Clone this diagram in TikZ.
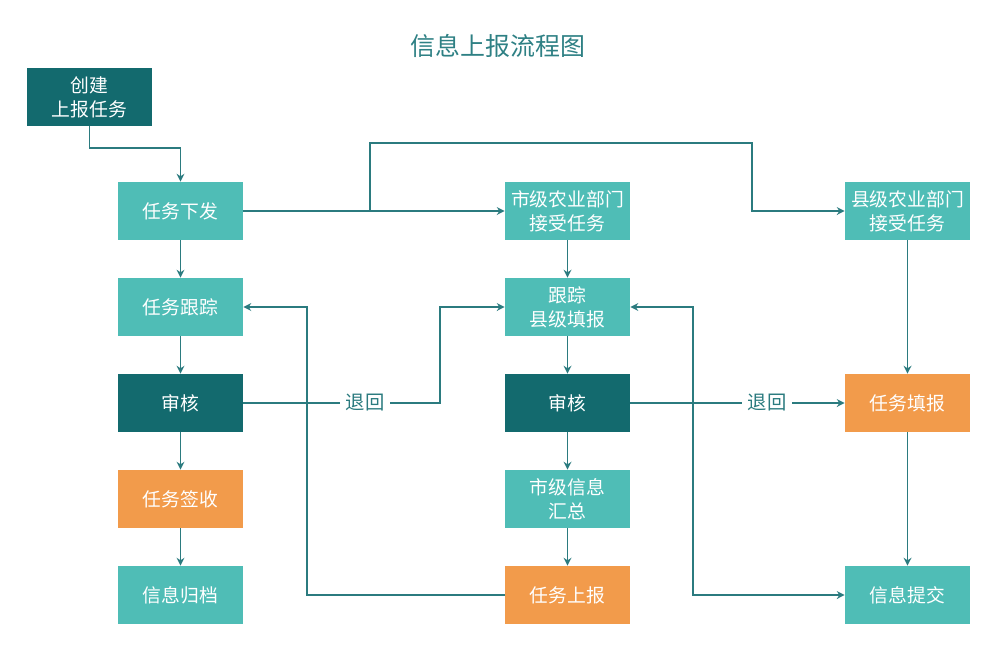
\documentclass[tikz,border=0pt]{standalone}
\usepackage{fontspec}
\setmainfont{Noto Sans CJK SC}
\usetikzlibrary{arrows.meta}
\definecolor{lightteal}{HTML}{4FBDB6}
\definecolor{darkteal}{HTML}{136A6E}
\definecolor{orangebox}{HTML}{F29B4B}
\definecolor{linec}{HTML}{2B7B7F}
\definecolor{titlec}{HTML}{2E8084}
\begin{document}
\begin{tikzpicture}[x=0.02cm,y=-0.02cm,
  box/.style={minimum width=2.5cm,minimum height=1.16cm,inner sep=0pt,align=center,text=white,font=\fontsize{10.7pt}{13.8pt}\selectfont},
  lbox/.style={box,fill=lightteal},
  dbox/.style={box,fill=darkteal},
  obox/.style={box,fill=orangebox},
  conn/.style={draw=linec,line width=0.8pt,-{Stealth[length=4.5pt,width=4.5pt]}},
  lbl/.style={fill=white,text=linec,inner sep=3pt,font=\fontsize{11pt}{13pt}\selectfont}]
\useasboundingbox (0,0) rectangle (1000,653);
\node[text=titlec,font=\fontsize{14.2pt}{17pt}\selectfont] (title) at (498,46) {信息上报流程图};
\node[dbox] (create) at (89.5,97) {创建\\上报任务};
\node[lbox] (xf) at (180.5,211) {任务下发};
\node[lbox] (gz) at (180.5,307) {任务跟踪};
\node[dbox] (sh1) at (180.5,403) {审核};
\node[obox] (qs) at (180.5,499) {任务签收};
\node[lbox] (gd) at (180.5,595) {信息归档};
\node[lbox] (sj) at (567.5,211) {市级农业部门\\接受任务};
\node[lbox] (gzx) at (567.5,307) {跟踪\\县级填报};
\node[dbox] (sh2) at (567.5,403) {审核};
\node[lbox] (hz) at (567.5,499) {市级信息\\汇总};
\node[obox] (sb) at (567.5,595) {任务上报};
\node[lbox] (xj) at (907.5,211) {县级农业部门\\接受任务};
\node[obox] (tb) at (907.5,403) {任务填报};
\node[lbox] (tj) at (907.5,595) {信息提交};
\coordinate (split) at (370,211);
% connectors
\draw[conn] (create.south) -- (89.5,148) -| (xf.north);
\draw[conn] (xf.east) -- (sj.west);
\draw[conn] (split) -- (370,143) -- (752,143) |- (xj.west);
\draw[conn] (xf) -- (gz);
\draw[conn] (gz) -- (sh1);
\draw[conn] (sh1) -- (qs);
\draw[conn] (qs) -- (gd);
\draw[conn] (sj) -- (gzx);
\draw[conn] (gzx) -- (sh2);
\draw[conn] (sh2) -- (hz);
\draw[conn] (hz) -- (sb);
\draw[conn] (xj) -- (tb);
\draw[conn] (tb) -- (tj);
\draw[conn] (sb.west) -- (307,595) |- (gz.east);
\draw[conn,{Stealth[length=4.5pt,width=4.5pt]}-{Stealth[length=4.5pt,width=4.5pt]}] (gzx.east) -- (693,307) |- (tj.west);
\draw[conn] (sh1.east) -- (440,403) |- (gzx.west);
\node[lbl] (th1) at (365,403) {退回};
\draw[conn] (sh2.east) -- (tb.west);
\node[lbl] (th2) at (767,403) {退回};
\end{tikzpicture}
\end{document}
